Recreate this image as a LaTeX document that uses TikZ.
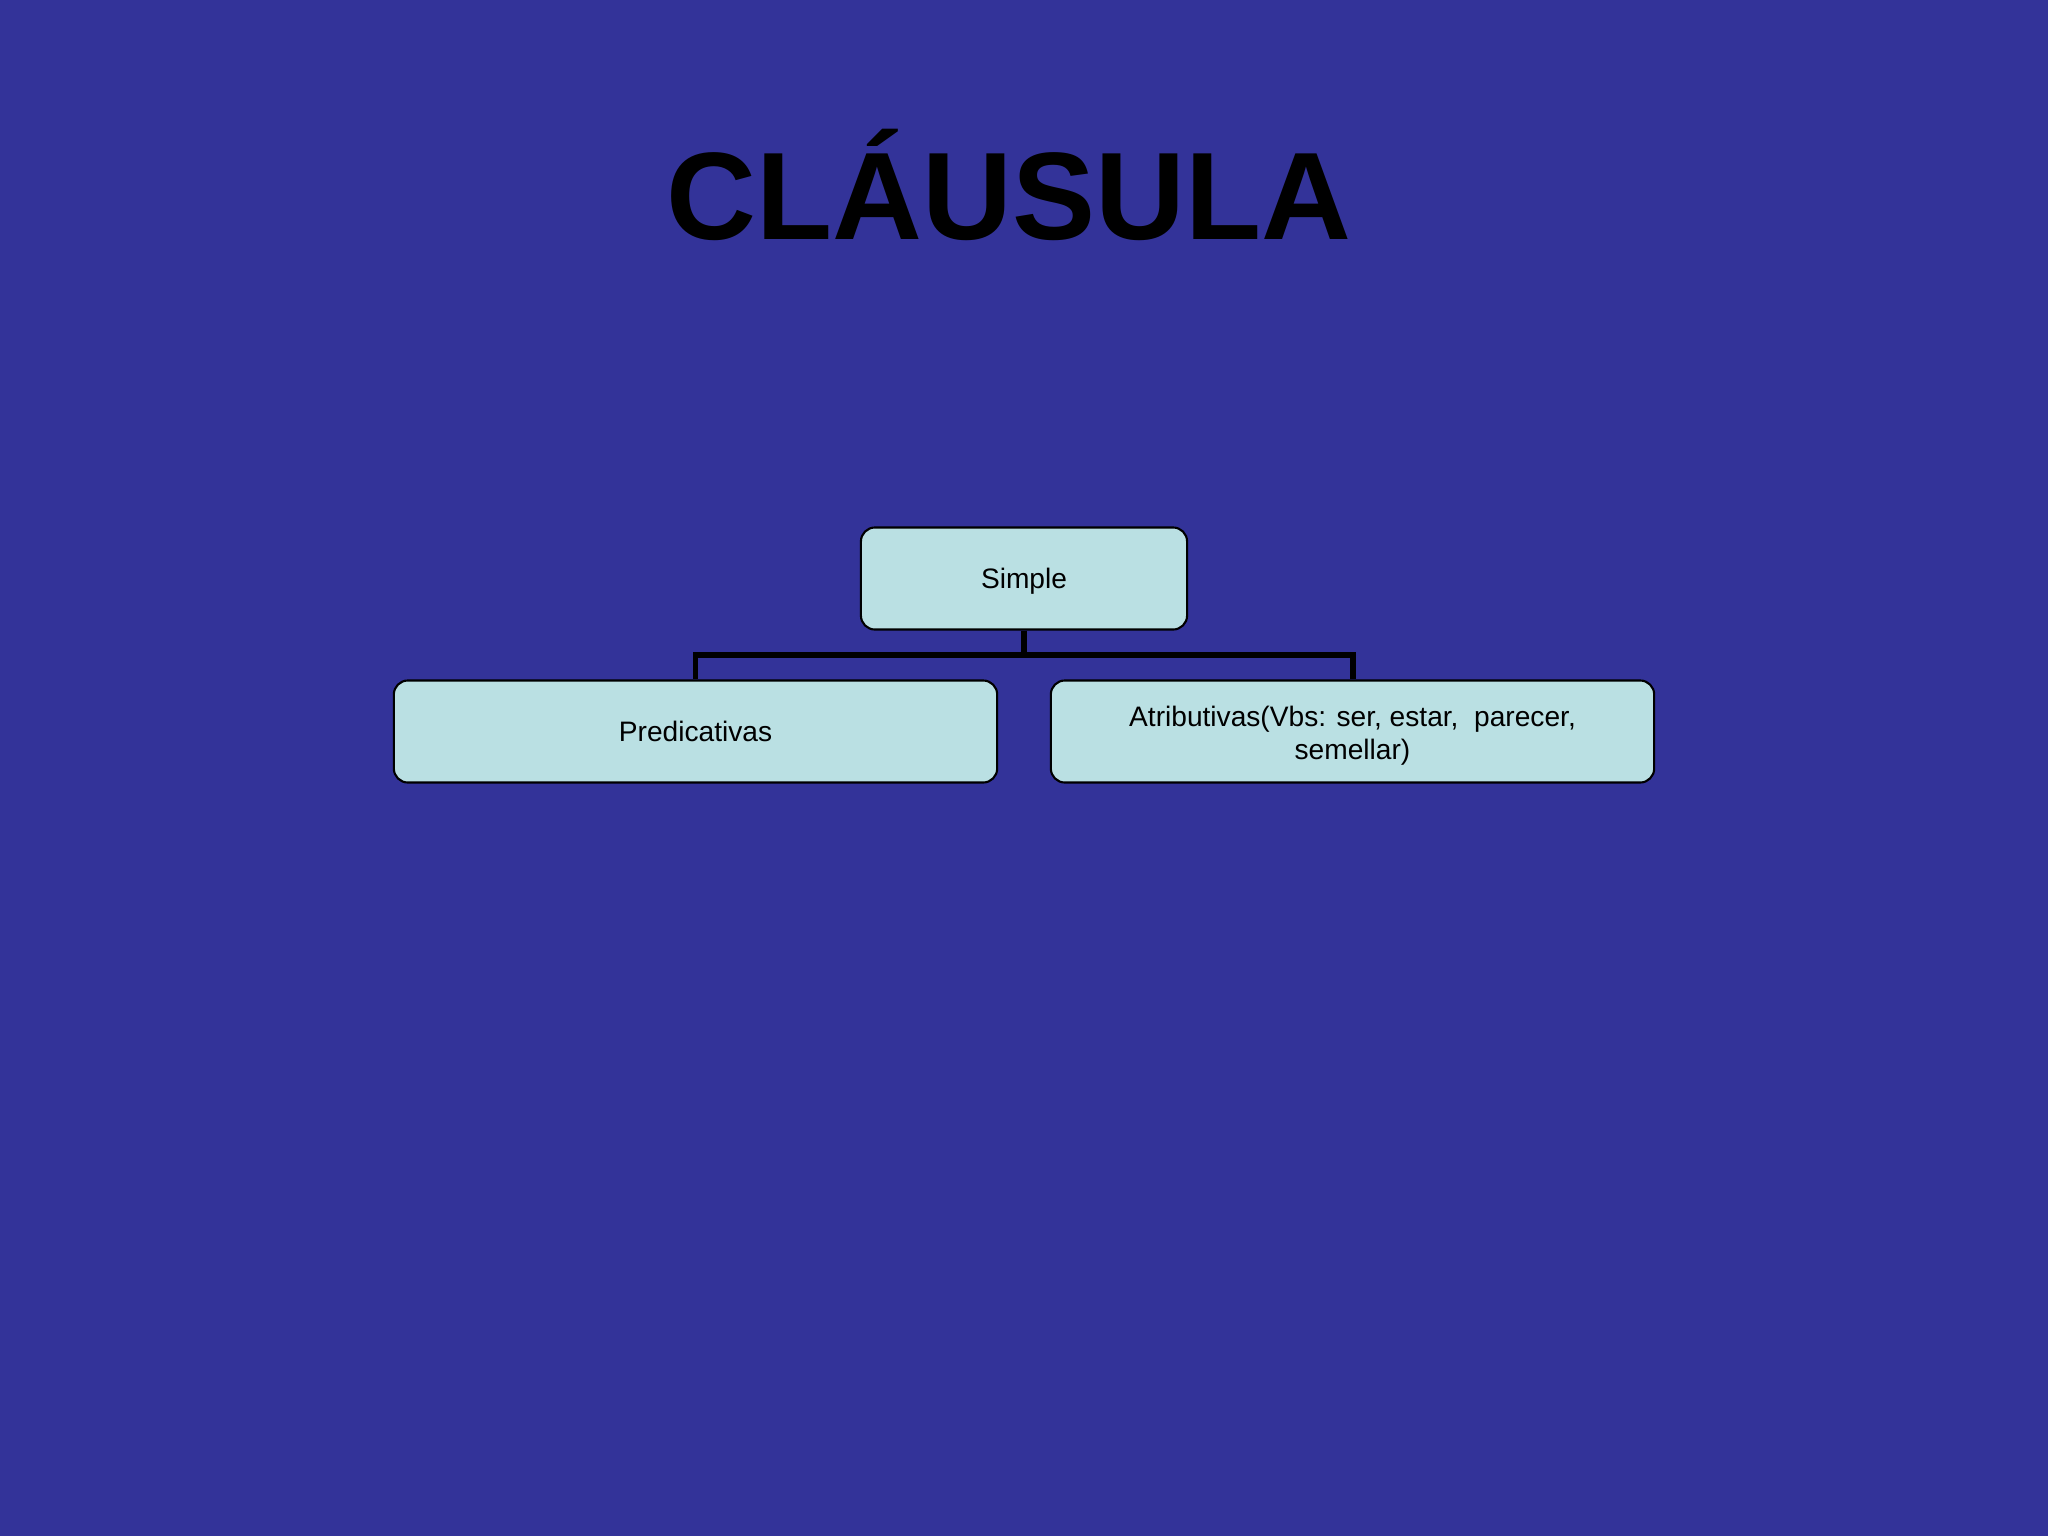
\documentclass[tikz,border=0pt]{standalone}
\usepackage{fontspec}
\setmainfont{Liberation Sans}
\definecolor{bgblue}{HTML}{333399}
\definecolor{boxfill}{HTML}{BAE0E3}
\tikzset{
  conceptbox/.style={draw=black, line width=0.6pt, fill=boxfill, rounded corners=0.14cm,
    minimum height=1.02cm, inner sep=0pt, align=center, font=\fontsize{8pt}{9.4pt}\selectfont},
  oneline/.style={text height=7pt, text depth=1.6pt},
  linker/.style={draw=black, line width=1.7pt}
}
\begin{document}
\begin{tikzpicture}[x=0.01cm,y=-0.01cm]
\fill[bgblue] (0,0) rectangle (2048,1536);
\useasboundingbox (0,0) rectangle (2048,1536);
\node[anchor=base, font=\bfseries\fontsize{35.4pt}{40pt}\selectfont, text=black] (title) at (1009,239) {CLÁUSULA};
\node[conceptbox, oneline, minimum width=3.26cm] (simple) at (1024,578.5) {Simple};
\node[conceptbox, oneline, minimum width=6.03cm] (pred) at (695.5,731.5) {Predicativas};
\node[conceptbox, minimum width=6.03cm] (atr) at (1352.5,731.5) {\rule{0pt}{8.2pt}Atributivas(Vbs: ser, estar,\ \ parecer,\\semellar)};
\coordinate (junc) at (1024,655);
\draw[linker] (simple.south) -- (junc);
\draw[linker] (junc) -| (pred.north);
\draw[linker] (junc) -| (atr.north);
\end{tikzpicture}
\end{document}
